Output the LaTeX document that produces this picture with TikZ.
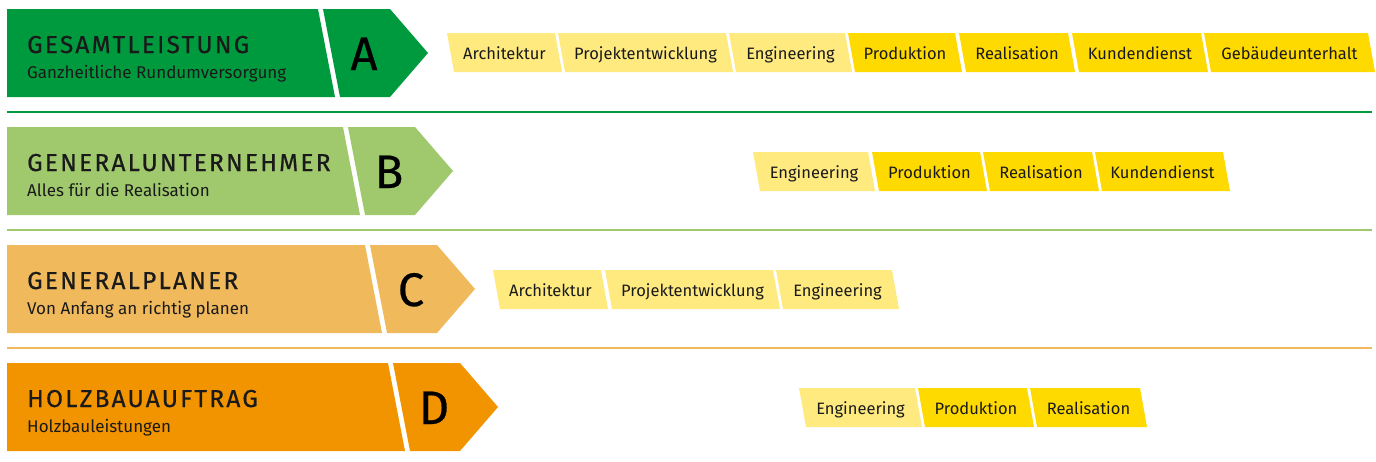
\documentclass[tikz,border=0pt]{standalone}
\usepackage{fontspec}
\setmainfont{Fira Sans}
\newfontfamily\titelfont[LetterSpace=9,FakeBold=0.6]{Fira Sans}
\newfontfamily\buchstabenfont[FakeBold=0.5]{Fira Sans}
\definecolor{gruenA}{HTML}{009A3E}
\definecolor{gruenB}{HTML}{A0C96E}
\definecolor{orangeC}{HTML}{F0BA5C}
\definecolor{orangeD}{HTML}{F29400}
\definecolor{gelbhell}{HTML}{FFEA80}
\definecolor{gelbsatt}{HTML}{FFDA00}
\definecolor{schrift}{HTML}{1A1A1A}

% one band: name, top y, x of the cut, colour, letter, title, subtitle
\newcommand{\stufe}[7]{%
  \fill[#4] (7,#2) -- (#3,#2) -- (#3+17,#2+88) -- (7,#2+88) -- cycle;
  \fill[#4] (#3+5,#2) -- (#3+72,#2) -- (#3+110,#2+44) -- (#3+72,#2+88) -- (#3+22,#2+88) -- cycle;
  \node[titel] (#1titel) at (27,#2+44) {#6};
  \node[untertitel] (#1unter) at (27,#2+69) {#7};
  \node[buchstabe] (#1buchstabe) at (#3+46,#2+61) {#5};
}
% one tag: name, left x, right x, top y, fill style, text
\newcommand{\leistung}[6]{%
  \fill[#5] (#2,#4) -- (#3,#4) -- (#3+7,#4+39) -- (#2+7,#4+39) -- cycle;
  \node[leistungtext] (#1) at ({(#2+#3)/2+3.5},#4+26) {#6};
}

\begin{document}
\begin{tikzpicture}[x=1pt,y=-1pt,
    titel/.style={anchor=base west,inner sep=0pt,text=schrift,font=\titelfont\fontsize{24.5}{24.5}\selectfont},
    untertitel/.style={anchor=base west,inner sep=0pt,text=schrift,font=\fontsize{17}{17}\selectfont},
    buchstabe/.style={anchor=base,inner sep=0pt,text=black,font=\buchstabenfont\fontsize{47}{47}\selectfont},
    leistungtext/.style={anchor=base,inner sep=0pt,text=schrift,font=\fontsize{16.5}{16.5}\selectfont},
    hell/.style={fill=gelbhell},
    satt/.style={fill=gelbsatt}]
  \useasboundingbox[fill=white] (0,0) rectangle (1376,461);

  \stufe{a}{9}{318}{gruenA}{A}{GESAMTLEISTUNG}{Ganzheitliche Rundumversorgung}
  \stufe{b}{127}{343}{gruenB}{B}{GENERALUNTERNEHMER}{Alles für die Realisation}
  \stufe{c}{245}{365}{orangeC}{C}{GENERALPLANER}{Von Anfang an richtig planen}
  \stufe{d}{363}{388}{orangeD}{D}{HOLZBAUAUFTRAG}{Holzbauleistungen}

  \draw[gruenA,line width=2pt] (7,112) -- (1372,112);
  \draw[gruenB,line width=2pt] (7,230) -- (1372,230);
  \draw[orangeC,line width=2pt] (7,348) -- (1372,348);

  \leistung{aarch}{447}{555}{33}{hell}{Architektur}
  \leistung{aproj}{558}{726}{33}{hell}{Projektentwicklung}
  \leistung{aeng}{729}{845}{33}{hell}{Engineering}
  \leistung{aprod}{848}{955}{33}{satt}{Produktion}
  \leistung{areal}{959}{1068}{33}{satt}{Realisation}
  \leistung{akund}{1072}{1201}{33}{satt}{Kundendienst}
  \leistung{ageb}{1204}{1368}{33}{satt}{Gebäudeunterhalt}

  \leistung{beng}{753}{868}{152}{hell}{Engineering}
  \leistung{bprod}{872}{980}{152}{satt}{Produktion}
  \leistung{breal}{983}{1092}{152}{satt}{Realisation}
  \leistung{bkund}{1095}{1223}{152}{satt}{Kundendienst}

  \leistung{carch}{493}{601}{270}{hell}{Architektur}
  \leistung{cproj}{605}{773}{270}{hell}{Projektentwicklung}
  \leistung{ceng}{776}{892}{270}{hell}{Engineering}

  \leistung{deng}{799}{915}{388}{hell}{Engineering}
  \leistung{dprod}{918}{1027}{388}{satt}{Produktion}
  \leistung{dreal}{1030}{1140}{388}{satt}{Realisation}
\end{tikzpicture}
\end{document}
